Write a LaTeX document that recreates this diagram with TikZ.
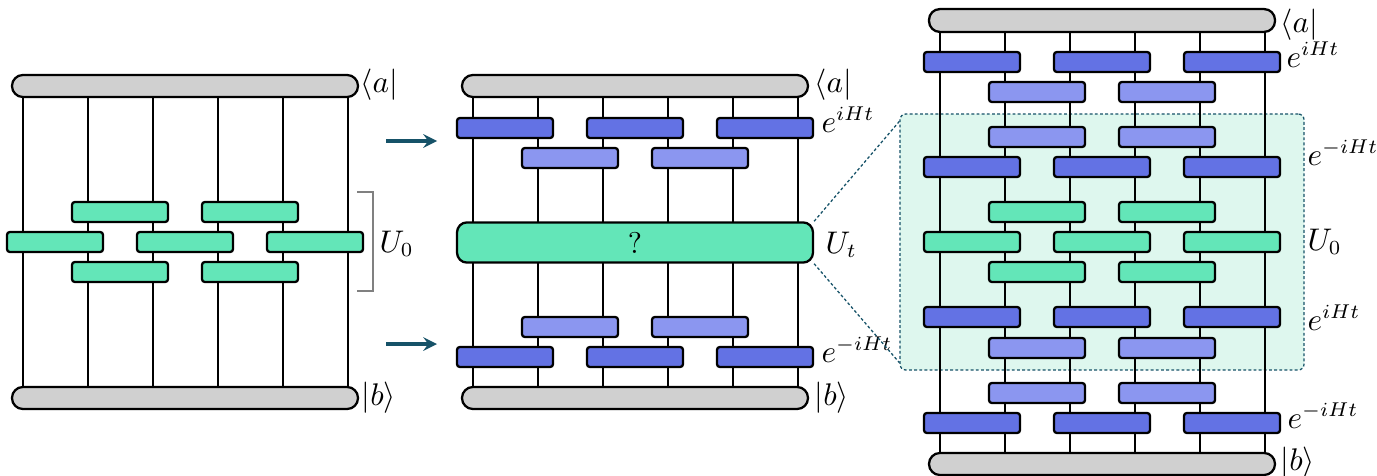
\documentclass[tikz,border=0pt]{standalone}
\usetikzlibrary{arrows}

\definecolor{gatedark}{RGB}{99,114,228}
\definecolor{gatelight}{RGB}{139,150,240}
\definecolor{gatemint}{RGB}{99,230,184}
\definecolor{barfill}{RGB}{208,208,208}
\definecolor{flowteal}{RGB}{22,82,104}
\definecolor{zoomfill}{RGB}{222,247,238}

\begin{document}
\begin{tikzpicture}[x=0.35pt, y=-0.35pt, >=stealth,
  gate/.style={draw, line width=0.8pt, rounded corners=1pt, minimum width=33.6pt, minimum height=7pt, inner sep=0pt},
  dgate/.style={gate, fill=gatedark},
  lgate/.style={gate, fill=gatelight},
  mgate/.style={gate, fill=gatemint},
  bar/.style={draw, fill=barfill, line width=0.8pt, rounded corners=3.8pt, minimum width=121.1pt, minimum height=7.7pt, inner sep=0pt},
  wire/.style={line width=0.8pt},
  lbl/.style={anchor=base west, inner sep=0pt, font=\fontsize{10.5pt}{12pt}\selectfont},
  zoomline/.style={flowteal, dash pattern=on 1pt off 0.8pt, line width=0.45pt},
  flow/.style={->, flowteal, line width=1.1pt}]
  \useasboundingbox (0,0) rectangle (1377,476);

  % panel 1: the brickwork U_0
  \node[bar] (bra1) at (185,86) {};
  \node[bar] (ket1) at (185,398) {};
  \foreach \x in {23,88,...,348}
    \draw[wire] (bra1.south -| \x,0) -- (ket1.north -| \x,0);
  \foreach \x in {120,250} {
    \node[mgate] (p1top\x) at (\x,212) {};
    \node[mgate] (p1bot\x) at (\x,272) {};
  }
  \foreach \x in {55,185,315}
    \node[mgate] (p1mid\x) at (\x,242) {};
  \node[lbl] (bra1lbl) at (360,93) {$\langle a|$};
  \node[lbl] (ket1lbl) at (361,405) {$|b\rangle$};
  \coordinate (brtop) at (357,192);
  \coordinate (brbot) at (357,291);
  \draw[gray, line width=0.5pt] (brtop) -- ++(16,0) |- (brbot);
  \node[lbl] (u0lbl) at (379,252) {$U_0$};

  % arrows
  \coordinate (f1s) at (386,141);
  \coordinate (f1e) at (437,141);
  \coordinate (f2s) at (386,344);
  \coordinate (f2e) at (437,344);
  \draw[flow] (f1s) -- (f1e);
  \draw[flow] (f2s) -- (f2e);

  % panel 2: evolved circuit
  \node[bar] (bra2) at (635,86) {};
  \node[bar] (ket2) at (635,398) {};
  \foreach \x in {473,538,...,798}
    \draw[wire] (bra2.south -| \x,0) -- (ket2.north -| \x,0);
  \foreach \x in {505,635,765} {
    \node[dgate] (p2top\x) at (\x,128) {};
    \node[dgate] (p2bot\x) at (\x,357) {};
  }
  \foreach \x in {570,700} {
    \node[lgate] (p2tl\x) at (\x,158) {};
    \node[lgate] (p2bl\x) at (\x,327) {};
  }
  \node[draw, fill=gatemint, line width=0.8pt, rounded corners=3.5pt, minimum width=124.6pt, minimum height=11.6pt, font=\fontsize{10.5pt}{12pt}\selectfont] (bigU) at (635,242.5) {?};
  \node[lbl] (bra2lbl) at (814,93) {$\langle a|$};
  \node[lbl] (ket2lbl) at (814,405) {$|b\rangle$};
  \node[lbl] (eih2) at (821,132) {$e^{iHt}$};
  \node[lbl] (emih2) at (821,362) {$e^{-iHt}$};
  \node[lbl] (ut2) at (825,253) {$U_t$};

  % panel 3: zoom
  \node[draw=flowteal, dash pattern=on 1pt off 0.8pt, line width=0.45pt, fill=zoomfill, rounded corners=2pt, minimum width=141.4pt, minimum height=89.6pt] (zoom) at (1102,242) {};
  \draw[zoomline] (bigU.north east) -- ([yshift=-2.8pt]zoom.north west);
  \draw[zoomline] (bigU.south east) -- ([yshift=2.8pt]zoom.south west);
  \node[bar, minimum height=8pt] (bra3) at (1102,20.5) {};
  \node[bar] (ket3) at (1102,464) {};
  \foreach \x in {940,1005,...,1265}
    \draw[wire] (bra3.south -| \x,0) -- (ket3.north -| \x,0);
  \foreach \y in {62,167,317,423}
    \foreach \x in {972,1102,1232}
      \node[dgate] (p3d\x-\y) at (\x,\y) {};
  \foreach \y in {92,137,348,393}
    \foreach \x in {1037,1167}
      \node[lgate] (p3l\x-\y) at (\x,\y) {};
  \foreach \y in {212,272}
    \foreach \x in {1037,1167}
      \node[mgate] (p3m\x-\y) at (\x,\y) {};
  \foreach \x in {972,1102,1232}
    \node[mgate] (p3c\x) at (\x,242) {};
  \node[lbl] (bra3lbl) at (1280,32) {$\langle a|$};
  \node[lbl] (ket3lbl) at (1280,470) {$|b\rangle$};
  \node[lbl] (eih3a) at (1286,67) {$e^{iHt}$};
  \node[lbl] (emih3a) at (1307,165) {$e^{-iHt}$};
  \node[lbl] (u03) at (1307,250) {$U_0$};
  \node[lbl] (eih3b) at (1307,330) {$e^{iHt}$};
  \node[lbl] (emih3b) at (1287,428) {$e^{-iHt}$};
\end{tikzpicture}
\end{document}
